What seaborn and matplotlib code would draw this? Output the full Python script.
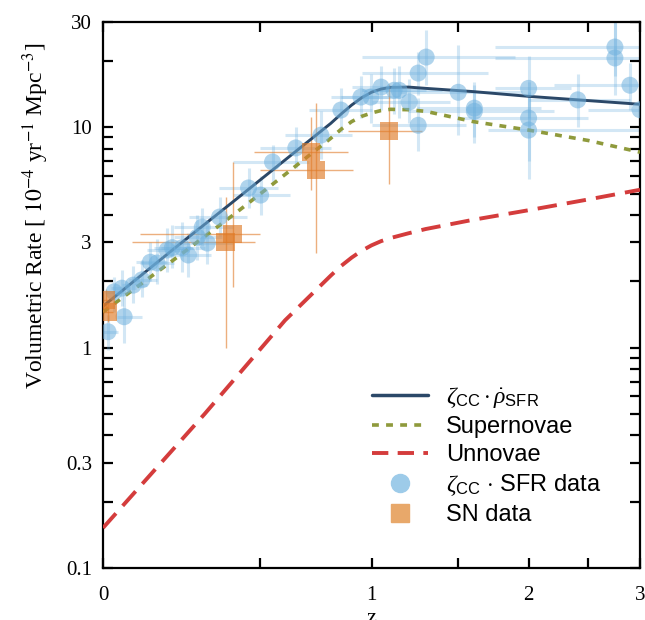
import numpy as np
import matplotlib
matplotlib.use('Agg')
import matplotlib.pyplot as plt
import seaborn as sns
from matplotlib.lines import Line2D
from matplotlib.ticker import FixedLocator, NullFormatter, FixedFormatter

# model curves (redshift z, rate in 1e-4 / yr / Mpc^3)
z_sfr = [0.0, 0.2, 0.4, 0.6, 0.8, 0.85, 0.9, 0.95, 1.0, 1.05, 1.1, 1.2, 1.3, 1.6, 2.0, 2.5, 3.0]
rate_sfr = [1.54, 2.80, 4.60, 7.10, 10.4, 11.5, 12.6, 13.6, 14.4, 14.9, 15.15, 15.2, 15.0,
            14.5, 13.8, 13.2, 12.7]

z_sn = [0.0, 0.2, 0.4, 0.6, 0.8, 0.85, 0.9, 0.95, 1.0, 1.05, 1.1, 1.2, 1.3, 1.6, 2.0, 2.5, 3.0]
rate_sn = [1.45, 2.50, 4.00, 6.10, 8.90, 9.8, 10.6, 11.2, 11.6, 11.9, 12.05, 12.0, 11.8,
           10.6, 9.7, 8.7, 7.7]

z_un = [0.0, 0.3, 0.6, 0.8, 0.85, 0.9, 0.95, 1.0, 1.05, 1.1, 1.2, 1.3, 1.6, 2.0, 2.5, 3.0]
rate_un = [0.152, 0.50, 1.33, 2.12, 2.35, 2.56, 2.75, 2.91, 3.04, 3.14, 3.30, 3.45, 3.80,
           4.20, 4.70, 5.20]

# zeta_CC * SFR data points with ranges
sfr_z = [0.013, 0.056, 0.050, 0.029, 0.081, 0.106, 0.130, 0.150, 0.180, 0.196, 0.227, 0.246,
         0.276, 0.309, 0.292, 0.351, 0.456, 0.502, 0.549, 0.645, 0.755, 0.848, 0.946, 0.997,
         1.05, 1.12, 1.148, 1.204, 1.256, 1.303, 1.256, 1.502, 1.608, 1.608, 2.0, 2.0, 2.0,
         2.406, 2.749, 2.749, 2.897, 3.0]
sfr_rate = [1.18, 1.38, 1.86, 1.79, 1.92, 2.03, 2.44, 2.42, 2.77, 2.84, 2.84, 2.63,
            3.17, 2.98, 3.52, 3.91, 5.30, 4.92, 6.95, 8.05, 9.2, 11.96, 13.7, 13.7,
            15.2, 14.7, 14.7, 13.0, 17.6, 20.8, 10.2, 14.4, 12.2, 11.8, 15.0, 11.0, 9.7,
            13.3, 23.1, 20.6, 15.5, 12.0]
sfr_zlo = [0.0, 0.037, 0.02, 0.01, 0.05, 0.07, 0.09, 0.10, 0.12, 0.14, 0.16, 0.18,
           0.20, 0.22, 0.20, 0.25, 0.35, 0.40, 0.40, 0.50, 0.60, 0.70, 0.80, 0.85,
           0.90, 0.95, 0.95, 1.00, 0.95, 0.95, 1.00, 1.15, 1.25, 1.20, 1.75, 1.50, 1.70,
           2.0, 1.75, 1.75, 2.2, 2.5]
sfr_zhi = [0.04, 0.106, 0.09, 0.06, 0.12, 0.15, 0.18, 0.20, 0.25, 0.26, 0.30, 0.32,
           0.36, 0.40, 0.40, 0.45, 0.57, 0.62, 0.70, 0.80, 0.90, 1.00, 1.10, 1.15,
           1.20, 1.30, 1.40, 1.45, 1.70, 1.90, 1.55, 1.95, 2.10, 2.20, 2.35, 2.50, 3.0,
           2.9, 4.0, 4.0, 3.8, 3.6]
sfr_lo = [0.98, 1.05, 1.55, 1.45, 1.6, 1.7, 2.0, 1.95, 2.2, 2.3, 2.2, 2.1,
          2.5, 2.4, 2.9, 3.2, 4.3, 4.0, 5.6, 6.5, 7.2, 9.5, 11.0, 10.5,
          12.0, 11.5, 11.0, 10.5, 14.0, 15.5, 7.8, 9.2, 9.0, 8.5, 11.0, 7.0, 5.8,
          10.0, 17.0, 14.0, 12.0, 9.5]
sfr_hi = [1.40, 1.85, 2.25, 2.1, 2.35, 2.5, 3.0, 3.1, 3.5, 3.6, 3.7, 3.3,
          4.0, 3.7, 4.3, 4.8, 6.5, 6.0, 8.3, 10.0, 11.8, 15.0, 17.0, 17.5,
          19.0, 18.5, 19.0, 16.5, 22.0, 27.5, 13.5, 23.6, 16.0, 15.5, 21.0, 16.0, 14.5,
          17.5, 35.0, 30.0, 19.5, 15.0]

# SN data
sn_z = [0.008, 0.012, 0.397, 0.372, 0.71, 0.732, 1.093]
sn_rate = [1.64, 1.45, 3.28, 3.01, 7.72, 6.37, 9.6]
sn_zlo = [0.0, 0.0, 0.10, 0.078, 0.475, 0.50, 0.88]
sn_zhi = [0.02, 0.025, 0.50, 0.48, 0.88, 0.906, 1.28]
sn_lo = [1.45, 1.30, 1.89, 1.0, 5.2, 2.68, 5.5]
sn_hi = [1.85, 1.62, 6.95, 4.84, 11.1, 12.9, 15.7]

sns.set_style('ticks')
plt.rcParams['font.family'] = ['Liberation Serif', 'DejaVu Serif']
plt.rcParams['mathtext.fontset'] = 'stix'
plt.rcParams['mathtext.rm'] = 'Liberation Sans'
plt.rcParams['mathtext.it'] = 'Liberation Serif:italic'
plt.rcParams['mathtext.bf'] = 'Liberation Sans:bold'
for k in ('text.color', 'axes.labelcolor', 'xtick.color', 'ytick.color', 'axes.edgecolor'):
    plt.rcParams[k] = 'black'

fig = plt.figure(figsize=(6.45, 6.2), dpi=100)
ax = fig.add_axes([0.1597, 0.0839, 0.8326, 0.8806])

ax.set_xscale('function', functions=(lambda z: np.log10(1 + np.clip(z, -0.999, None)),
                                     lambda u: 10 ** u - 1))
ax.set_yscale('log')

c_sfr, c_sn, c_un = '#2b4868', '#8f9a3c', '#d43c3c'
c_blue, c_orange = '#6fb1de', '#e07b28'

sns.lineplot(x=z_sfr, y=rate_sfr, ax=ax, color=c_sfr, lw=2.1, zorder=3)
sns.lineplot(x=z_sn, y=rate_sn, ax=ax, color=c_sn, lw=2.6, zorder=3,
             linestyle=(0, (1.9, 2.0)))
sns.lineplot(x=z_un, y=rate_un, ax=ax, color=c_un, lw=2.8, zorder=3,
             linestyle=(0, (5.0, 2.6)))

sfr_z_a, sfr_r_a = np.array(sfr_z), np.array(sfr_rate)
ax.errorbar(sfr_z_a, sfr_r_a,
            xerr=[sfr_z_a - np.array(sfr_zlo), np.array(sfr_zhi) - sfr_z_a],
            yerr=[sfr_r_a - np.array(sfr_lo), np.array(sfr_hi) - sfr_r_a],
            fmt='none', ecolor=c_blue, elinewidth=2.2, alpha=0.3, zorder=2)
sns.scatterplot(x=sfr_z, y=sfr_rate, ax=ax, marker='o', s=150, color=c_blue,
                alpha=0.55, edgecolor='none', zorder=4)

sn_z_a, sn_r_a = np.array(sn_z), np.array(sn_rate)
ax.errorbar(sn_z_a, sn_r_a,
            xerr=[sn_z_a - np.array(sn_zlo), np.array(sn_zhi) - sn_z_a],
            yerr=[sn_r_a - np.array(sn_lo), np.array(sn_hi) - sn_r_a],
            fmt='none', ecolor=c_orange, elinewidth=1.0, alpha=0.6, zorder=2)
sns.scatterplot(x=sn_z, y=sn_rate, ax=ax, marker='s', s=170, color=c_orange,
                alpha=0.65, edgecolor='none', zorder=5)

ax.set_xlim(0, 3)
ax.set_ylim(0.1, 30)

ax.xaxis.set_major_locator(FixedLocator([0, 1, 2, 3]))
ax.xaxis.set_major_formatter(FixedFormatter(['0', '1', '2', '3']))
ax.xaxis.set_minor_locator(FixedLocator([0.5, 1.5, 2.5]))
ax.xaxis.set_minor_formatter(NullFormatter())

yt = [0.1, 0.3, 1, 3, 10, 30]
ax.yaxis.set_major_locator(FixedLocator(yt))
ax.yaxis.set_major_formatter(FixedFormatter(['0.1', '0.3', '1', '3', '10', '30']))
ymin = [m * d for d in (0.1, 1, 10) for m in range(2, 10) if m * d != 0.3 and m * d != 3 and m * d <= 30]
ax.yaxis.set_minor_locator(FixedLocator(ymin))
ax.yaxis.set_minor_formatter(NullFormatter())

for which in ('major', 'minor'):
    ax.tick_params(axis='both', which=which, direction='in', length=7, width=1.6,
                   top=True, right=True, labelsize=15, colors='black')
ax.tick_params(axis='x', which='major', pad=13)
ax.tick_params(axis='y', which='major', pad=8)
for sp in ax.spines.values():
    sp.set_linewidth(1.6)
    sp.set_color('black')

ax.set_ylabel(r'Volumetric Rate [ $10^{-4}$ yr$^{-1}$ Mpc$^{-3}$]', fontsize=17)
ax.yaxis.set_label_coords(-0.097, 0.645)
ax.set_xlabel('z', fontsize=16)
ax.xaxis.set_label_coords(0.5, -0.075)

handles = [
    Line2D([], [], color=c_sfr, lw=2.5),
    Line2D([], [], color=c_sn, lw=2.6, linestyle=(0, (1.9, 2.0))),
    Line2D([], [], color=c_un, lw=2.8, linestyle=(0, (4.2, 2.4))),
    Line2D([], [], marker='o', ms=13, color='#9dcbe9', lw=0),
    Line2D([], [], marker='s', ms=13, color='#e8a86a', lw=0),
]
labels = [r'$\zeta_{\mathrm{CC}} \cdot \dot{\rho}_{\mathrm{SFR}}$', 'Supernovae', 'Unnovae',
          r'$\zeta_{\mathrm{CC}}$ $\cdot$ SFR data', 'SN data']
ax.legend(handles, labels, loc='upper left', bbox_to_anchor=(0.465, 0.37), frameon=False,
          prop={'family': 'Liberation Sans', 'size': 17, 'math_fontfamily': 'custom'},
          handlelength=2.4, handletextpad=0.75, labelspacing=0.26, borderpad=0.3)

fig.savefig('out.png', dpi=100)
